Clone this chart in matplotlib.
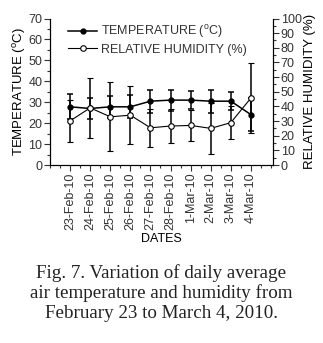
import numpy as np
import matplotlib
matplotlib.use('Agg')
import matplotlib.pyplot as plt
from matplotlib.lines import Line2D
from matplotlib.ticker import MultipleLocator

dates = ['23-Feb-10', '24-Feb-10', '25-Feb-10', '26-Feb-10', '27-Feb-10',
         '28-Feb-10', '1-Mar-10', '2-Mar-10', '3-Mar-10', '4-Mar-10']
temp = [27.8, 27.0, 27.8, 27.8, 30.5, 31.0, 31.0, 30.5, 30.5, 24.1]
temp_err = [5.9, 5.0, 5.2, 5.5, 5.5, 5.0, 4.4, 5.5, 4.4, 8.0]
humidity = [30.1, 39.0, 32.9, 34.0, 25.4, 26.6, 27.0, 25.0, 28.9, 45.7]
humidity_err = [14.6, 20.7, 23.6, 19.7, 12.9, 11.7, 10.4, 17.6, 11.4, 24.1]

plt.rcParams['font.family'] = ['Liberation Sans', 'DejaVu Sans']
plt.rcParams['font.size'] = 9
plt.rcParams['text.color'] = '#333333'
plt.rcParams['xtick.color'] = '#333333'
plt.rcParams['ytick.color'] = '#333333'

fig = plt.figure(figsize=(3.23, 3.43), dpi=100)
ax = fig.add_axes([50 / 323, 1 - 165 / 343, 223 / 323, 146.5 / 343])
ax2 = ax.twinx()

x = np.arange(len(dates))
ax.errorbar(x, temp, yerr=temp_err, color='black', lw=1.1, marker='o', ms=3.5,
            mfc='black', mec='black', capsize=2.5, elinewidth=1.1, capthick=1.1)
ax2.errorbar(x, humidity, yerr=humidity_err, color='black', lw=0.8, marker='o',
             ms=4, mfc='white', mec='black', mew=0.8, capsize=2.5,
             elinewidth=1.1, capthick=1.1)

ax.set_xlim(-1, 10.1)
ax.set_ylim(0, 70)
ax2.set_ylim(0, 100)
ax.set_xticks(x)
ax.set_xticklabels(dates, rotation=90)
ax.xaxis.set_minor_locator(MultipleLocator(0.5))
ax.yaxis.set_major_locator(MultipleLocator(10))
ax.yaxis.set_minor_locator(MultipleLocator(5))
ax2.yaxis.set_major_locator(MultipleLocator(10))
ax2.yaxis.set_minor_locator(MultipleLocator(5))

for a in (ax, ax2):
    a.spines['top'].set_visible(False)
    a.tick_params(which='major', direction='out', length=4, width=0.8, pad=1.5)
    a.tick_params(which='minor', direction='out', length=2, width=0.8)

ax.set_xlabel('DATES', labelpad=2)
ax.set_ylabel('TEMPERATURE ($^{\\mathregular{o}}$C)', labelpad=0, fontsize=9.5)
ax2.set_ylabel('RELATIVE HUMIDITY (%)', labelpad=2, fontsize=9.5)

handles = [
    Line2D([], [], color='black', lw=1.1, marker='o', ms=3.5, mfc='black'),
    Line2D([], [], color='black', lw=0.8, marker='o', ms=4, mfc='white', mew=0.8),
]
labels = ['TEMPERATURE ($^{\\mathregular{o}}$C)', 'RELATIVE HUMIDITY (%)']
ax.legend(handles, labels, loc='upper left', bbox_to_anchor=(0.06, 1.0),
          frameon=False, handlelength=2.3, handletextpad=0.3, labelspacing=0.25,
          borderaxespad=0, fontsize=9)

caption = ('Fig. 7. Variation of daily average\n'
           'air temperature and humidity from\n'
           'February 23 to March 4, 2010.')
fig.text(0.5, 1 - 293 / 343, caption, ha='center', va='center',
         family='Liberation Serif', fontsize=13.7, color='#222222',
         linespacing=1.2)

fig.savefig('out.png', dpi=100)
